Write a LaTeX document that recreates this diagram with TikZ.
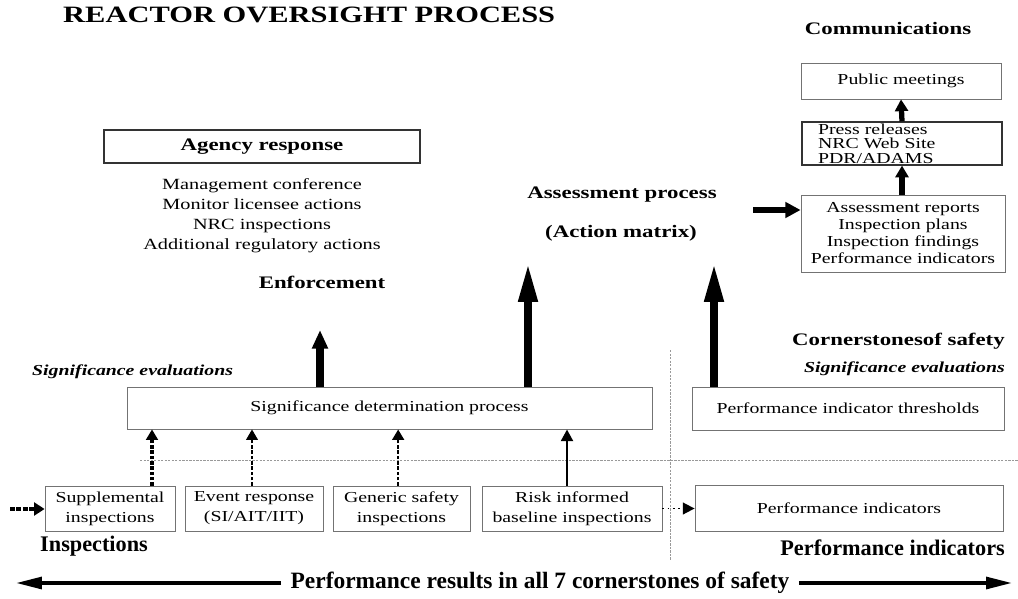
\documentclass[tikz,border=0pt]{standalone}
\usepackage{fontspec}
\setmainfont[FakeStretch=1.3]{Liberation Serif}
\newfontfamily\condfont{Liberation Serif}
\usetikzlibrary{arrows.meta,calc}
\begin{document}
\begin{tikzpicture}[x=0.03cm,y=-0.03cm,
  hdr/.style={font=\fontsize{15}{18}\selectfont\bfseries, inner sep=0pt},
  sigev/.style={font=\fontsize{13}{16}\selectfont\bfseries\itshape, inner sep=0pt},
  body/.style={font=\fontsize{13}{17}\selectfont, align=center},
  darkbox/.style={draw=black!80, line width=1pt, inner sep=0pt, body},
  lightbox/.style={draw=black!55, line width=0.7pt, inner sep=0pt, body},
  botlabel/.style={font=\condfont\fontsize{19}{21}\selectfont\bfseries, inner sep=0pt},
  bigarrow/.style={line width=7pt, -{Triangle[width=15pt,length=34pt]}},
  enfarrow/.style={line width=6pt, -{Triangle[width=13pt,length=16pt]}},
  commarrow/.style={line width=4.5pt, -{Triangle[width=11pt,length=10pt]}},
  inarrow/.style={line width=4.5pt, -{Triangle[width=13pt,length=13pt]}},
  dasharrow/.style={line width=#1, dash pattern=on 3pt off 1.5pt, -{Triangle[width=10pt,length=9pt]}},
  solidarrow/.style={line width=2.5pt, -{Triangle[width=10pt,length=10pt]}},
  dotarrow/.style={line width=1.5pt, dash pattern=on 1.5pt off 3pt, -{Triangle[width=10pt,length=10pt]}},
  divider/.style={draw=black!40, line width=0.6pt, dash pattern=on 2pt off 1pt},
  longarrow/.style={line width=3pt, -{Triangle[width=10pt,length=22pt]}}
]
\useasboundingbox (0,0) rectangle (1018,599);

% title
\node[anchor=west, font=\fontsize{20}{24}\selectfont\bfseries, inner sep=0pt] (title) at (63,15) {REACTOR OVERSIGHT PROCESS};

% communications column
\node[hdr] (comm) at (888,29) {Communications};
\node[lightbox, minimum width=6.0cm, minimum height=1.08cm] (pub) at (901,81) {Public meetings};
\node[darkbox, minimum width=6.0cm, minimum height=1.29cm, text width=5.04cm, inner xsep=0.48cm, align=left,
      font=\fontsize{13}{12.5}\selectfont] (press) at (902,143.5) {Press releases\\NRC Web Site\\PDR/ADAMS};
\node[lightbox, minimum width=6.12cm, minimum height=2.31cm, font=\fontsize{13}{14.5}\selectfont] (assess) at (903,233.5)
  {Assessment reports\\Inspection plans\\Inspection findings\\Performance indicators};
\draw[commarrow] (press.north) -- (pub.south);
\draw[commarrow] (assess.north -| press.south) -- (press.south);
\coordinate (inA) at (753,210);
\draw[inarrow] (inA) -- (inA -| assess.west);

% agency response
\node[darkbox, minimum width=9.48cm, minimum height=0.99cm, font=\fontsize{15}{18}\selectfont\bfseries] (agency) at (262,146.5) {Agency response};
\node[body, inner sep=0pt, font=\fontsize{13.3}{17}\selectfont] (acts) at (262,216)
  {Management conference\\Monitor licensee actions\\NRC inspections\\Additional regulatory actions};

% assessment process
\node[hdr] (assproc) at (622,195) {Assessment process};
\node[hdr] (actmat) at (621,233) {(Action matrix)};
\node[hdr] (enf) at (322,282) {Enforcement};

% significance evaluations
\node[sigev, anchor=west] (sigL) at (32,372) {Significance evaluations};
\node[lightbox, minimum width=15.75cm, minimum height=1.26cm] (sdp) at (389.5,408) {Significance determination process};

\node[hdr, anchor=east] (corner) at (1005,341) {Cornerstonesof safety};
\node[sigev, anchor=east] (sigR) at (1005,369) {Significance evaluations};
\node[lightbox, minimum width=9.36cm, minimum height=1.29cm] (pit) at (848,408.5) {Performance indicator thresholds};

% big arrows
\coordinate (enfTip) at (320,330);
\draw[enfarrow] (enfTip |- sdp.north) -- (enfTip);
\coordinate (a1) at (528,262);
\draw[bigarrow] (a1 |- sdp.north) -- (a1);
\coordinate (a2) at (714,262);
\draw[bigarrow] (a2 |- pit.north) -- (a2);

% dividers
\coordinate (h1) at (140,460);
\coordinate (h2) at (1018,460);
\draw[divider] (h1) -- (h2);
\coordinate (v1) at (670,350);
\coordinate (v2) at (670,560);
\draw[divider] (v1) -- (v2);

% inspection boxes
\node[lightbox, minimum width=3.9cm, minimum height=1.35cm] (supp) at (110,508.5) {Supplemental\\inspections};
\node[lightbox, minimum width=4.14cm, minimum height=1.35cm] (event) at (254,508.5) {Event response\\(SI/AIT/IIT)};
\node[lightbox, minimum width=4.11cm, minimum height=1.35cm] (generic) at (401.5,508.5) {Generic safety\\inspections};
\node[lightbox, minimum width=5.4cm, minimum height=1.35cm] (risk) at (572,508.5) {Risk informed\\baseline inspections};
\node[lightbox, minimum width=9.24cm, minimum height=1.4cm] (pi) at (849,508.5) {Performance indicators};

\path ([xshift=1.26cm]supp.north) coordinate (s1);
\draw[dasharrow=3pt] (s1) -- (s1 |- sdp.south);
\path ([xshift=-0.06cm]event.north) coordinate (e1);
\draw[dasharrow=1.5pt] (e1) -- (e1 |- sdp.south);
\path ([xshift=-0.1cm]generic.north) coordinate (g1);
\draw[dasharrow=2.2pt] (g1) -- (g1 |- sdp.south);
\path ([xshift=-0.15cm]risk.north) coordinate (r1);
\draw[solidarrow] (r1) -- (r1 |- sdp.south);

\coordinate (inB) at (10,509);
\draw[line width=4pt, dash pattern=on 4pt off 1.5pt, -{Triangle[width=11pt,length=9pt]}] (inB) -- (inB -| supp.west);
\draw[dotarrow] (risk.east) -- (pi.west);

% bottom labels
\node[botlabel, anchor=west] (insp) at (40,546) {Inspections};
\node[botlabel, anchor=east] (pind) at (1005,548) {Performance indicators};
\node[botlabel, font=\condfont\fontsize{20}{22}\selectfont\bfseries] (perf) at (540,583) {Performance results in all 7 cornerstones of safety};
\coordinate (lA) at (16,583);
\coordinate (rA) at (1012,583);
\draw[longarrow, shorten <=8pt] (perf.west) -- (lA);
\draw[longarrow, shorten <=8pt] (perf.east) -- (rA);
\end{tikzpicture}
\end{document}
